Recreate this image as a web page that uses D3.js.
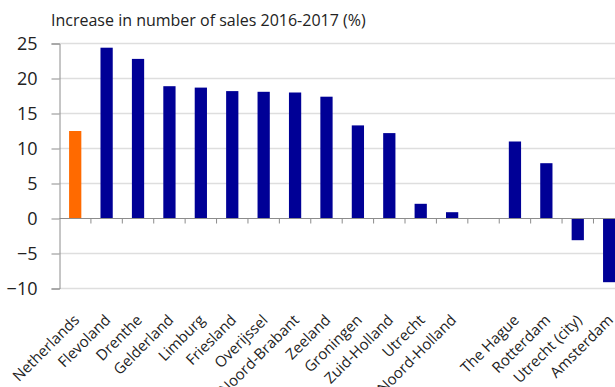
<!DOCTYPE html>
<html>
<head>
<meta charset="utf-8">
<script src="https://cdn.jsdelivr.net/npm/d3@7"></script>
<style>
  html, body { margin: 0; padding: 0; background: #fff; }
  svg { display: block; font-family: "Open Sans", "Noto Sans", sans-serif; }
</style>
</head>
<body>
<svg id="chart" width="615" height="387"></svg>
<script>
// Regions (provinces, then a gap, then the four big cities)
const categories = [
  "Netherlands", "Flevoland", "Drenthe", "Gelderland", "Limburg", "Friesland",
  "Overijssel", "Noord-Brabant", "Zeeland", "Groningen", "Zuid-Holland",
  "Utrecht", "Noord-Holland", "", "The Hague", "Rotterdam", "Utrecht (city)", "Amsterdam"
];
// Increase in number of sales 2016-2017, percent (null = empty slot)
const values = [
  12.5, 24.4, 22.8, 18.9, 18.7, 18.2,
  18.1, 18.0, 17.4, 13.3, 12.2,
  2.1, 0.9, null, 11.0, 7.9, -3.1, -9.1
];
const yTicks = [25, 20, 15, 10, 5, 0, -5, -10];
const title = "Increase in number of sales 2016-2017 (%)";

const svg = d3.select("#chart");
const W = 615;

const left = 59.5, step = 31.41;
const x = d3.scaleBand()
  .domain(categories.map((c, i) => i))
  .range([left, left + step * categories.length])
  .paddingInner(0.61)
  .paddingOuter(0.305);

const y = d3.scaleLinear().domain([-10, 25]).range([288.5, 43.5]);

// horizontal gridlines
svg.append("g")
  .selectAll("line")
  .data(yTicks.filter(t => t !== 0))
  .join("line")
  .attr("x1", left).attr("x2", W)
  .attr("y1", d => y(d)).attr("y2", d => y(d))
  .attr("stroke", "#dedede")
  .attr("stroke-width", 1.5);

// y axis
const yAxis = svg.append("g")
  .attr("transform", `translate(${left},0)`)
  .call(d3.axisLeft(y).tickValues(yTicks).tickSize(8).tickPadding(14).tickFormat(d3.format("d")));
yAxis.select(".domain").attr("stroke", "#8c8c8c");
yAxis.selectAll(".tick line").attr("stroke", "#8c8c8c");
yAxis.selectAll(".tick text")
  .attr("font-size", 18)
  .attr("fill", "#222")
  .attr("font-family", "'Open Sans', sans-serif");

// bars
svg.append("g")
  .selectAll("rect")
  .data(values.map((v, i) => ({ v, i })).filter(d => d.v !== null))
  .join("rect")
  .attr("x", d => x(d.i))
  .attr("width", x.bandwidth())
  .attr("y", d => y(Math.max(0, d.v)))
  .attr("height", d => Math.abs(y(d.v) - y(0)))
  .attr("fill", d => d.i === 0 ? "#ff6a00" : "#000096");

// x axis line at zero with ticks on slot boundaries
const xAxisG = svg.append("g");
xAxisG.append("line")
  .attr("x1", left).attr("x2", W)
  .attr("y1", y(0)).attr("y2", y(0))
  .attr("stroke", "#8c8c8c").attr("stroke-width", 1.2);
xAxisG.selectAll("line.tk")
  .data(d3.range(1, categories.length + 1))
  .join("line")
  .attr("class", "tk")
  .attr("x1", i => left + step * i).attr("x2", i => left + step * i)
  .attr("y1", y(0)).attr("y2", y(0) + 5)
  .attr("stroke", "#8c8c8c");

// category labels, rotated, below the plot area
svg.append("g")
  .selectAll("text")
  .data(categories)
  .join("text")
  .attr("transform", (d, i) => `translate(${x(i) + x.bandwidth() / 2 + 5},321) rotate(-45)`)
  .attr("text-anchor", "end")
  .attr("font-size", 15)
  .attr("fill", "#222")
  .text(d => d);

// title
svg.append("text")
  .attr("x", 51).attr("y", 26)
  .attr("font-size", 16)
  .attr("fill", "#222")
  .text(title);
</script>
</body>
</html>
